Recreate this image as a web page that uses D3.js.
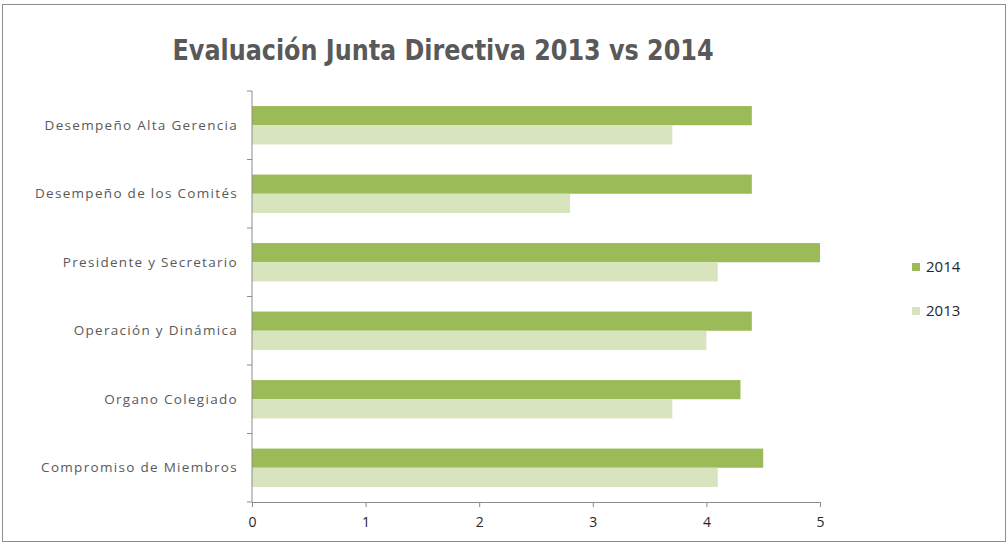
<!DOCTYPE html>
<html>
<head>
<meta charset="utf-8">
<script src="https://cdn.jsdelivr.net/npm/d3@7"></script>
<style>
  body { margin: 0; background: #fff; }
  svg { display: block; }
</style>
</head>
<body>
<div id="chart"></div>
<script>
// Data
const categories = [
  "Desempeño Alta Gerencia",
  "Desempeño de los Comités",
  "Presidente y Secretario",
  "Operación y Dinámica",
  "Organo Colegiado",
  "Compromiso de Miembros"
];
const seriesNames = ["2014", "2013"];
const values2014 = [4.4, 4.4, 5.0, 4.4, 4.3, 4.5];
const values2013 = [3.7, 2.8, 4.1, 4.0, 3.7, 4.1];
const xTicks = [0, 1, 2, 3, 4, 5];
const titleText = "Evaluación Junta Directiva 2013 vs 2014";

const width = 1008, height = 544;
const margins = { top: 91, right: 188, bottom: 42, left: 252 };

const svg = d3.select("#chart")
  .append("svg")
  .attr("width", width)
  .attr("height", height);

// outer border
svg.append("rect")
  .attr("x", 2.5).attr("y", 4.5)
  .attr("width", 1003).attr("height", 537)
  .attr("fill", "#fff")
  .attr("stroke", "#8c8c8c");

// build rows
const rows = categories.map((c, i) => ({
  cat: c,
  "2014": values2014[i],
  "2013": values2013[i]
}));

// scales
const x = d3.scaleLinear()
  .domain([0, 5])
  .range([margins.left, width - margins.right]);

const y0 = d3.scaleBand()
  .domain(categories)
  .range([margins.top, height - margins.bottom])
  .paddingInner(0.44)
  .paddingOuter(0.22);

const y1 = d3.scaleBand()
  .domain(seriesNames)
  .range([0, y0.bandwidth()]);

const color = d3.scaleOrdinal()
  .domain(seriesNames)
  .range(["#9bbb59", "#d7e4bd"]);

// bars
const groups = svg.append("g")
  .selectAll("g")
  .data(rows)
  .join("g")
    .attr("transform", d => `translate(0,${y0(d.cat)})`);

groups.selectAll("rect")
  .data(d => seriesNames.map(s => ({ s, v: d[s] })))
  .join("rect")
    .attr("x", x(0))
    .attr("y", d => y1(d.s))
    .attr("width", d => x(d.v) - x(0))
    .attr("height", y1.bandwidth())
    .attr("fill", d => color(d.s));

// x axis
const xAxis = svg.append("g")
  .attr("transform", `translate(0,${height - margins.bottom})`)
  .call(d3.axisBottom(x).tickValues(xTicks).tickSize(5).tickPadding(10).tickFormat(d3.format("d")));
xAxis.select(".domain").attr("stroke", "#8c8c8c");
xAxis.selectAll(".tick line").attr("stroke", "#8c8c8c");
xAxis.selectAll("text")
  .attr("fill", "#262626")
  .style("font-family", "'Open Sans', sans-serif")
  .style("font-size", "14px");

// y axis: ticks at category boundaries
const yEdge = d3.scaleBand().domain(categories).range([margins.top, height - margins.bottom]);
const yAxisG = svg.append("g");
yAxisG.append("line")
  .attr("x1", x(0)).attr("x2", x(0))
  .attr("y1", yEdge.range()[0]).attr("y2", yEdge.range()[1])
  .attr("stroke", "#8c8c8c");
const edges = categories.map(c => yEdge(c)).concat([yEdge.range()[1]]);
yAxisG.selectAll("line.tk")
  .data(edges)
  .join("line")
    .attr("class", "tk")
    .attr("x1", x(0) - 5).attr("x2", x(0))
    .attr("y1", d => d).attr("y2", d => d)
    .attr("stroke", "#8c8c8c");

yAxisG.selectAll("text")
  .data(categories)
  .join("text")
    .attr("x", 238)
    .attr("y", d => yEdge(d) + yEdge.bandwidth() / 2)
    .attr("dy", "0.35em")
    .attr("text-anchor", "end")
    .attr("fill", "#595959")
    .style("font-family", "'Open Sans', sans-serif")
    .style("font-size", "13.5px")
    .style("letter-spacing", "1.3px")
    .text(d => d);

// title
svg.append("text")
  .attr("x", 443)
  .attr("y", 60)
  .attr("text-anchor", "middle")
  .attr("fill", "#595959")
  .style("font-family", "'DejaVu Sans Condensed', 'DejaVu Sans', sans-serif")
  .style("font-size", "28px")
  .style("font-weight", "bold")
  .attr("textLength", 541)
  .attr("lengthAdjust", "spacingAndGlyphs")
  .text(titleText);

// legend
const legend = svg.append("g")
  .attr("transform", "translate(912,267)");
seriesNames.forEach((s, i) => {
  const g = legend.append("g").attr("transform", `translate(0,${i * 44})`);
  g.append("rect")
    .attr("x", 0).attr("y", -4)
    .attr("width", 8).attr("height", 8)
    .attr("fill", color(s));
  g.append("text")
    .attr("x", 14).attr("y", 0)
    .attr("dy", "0.35em")
    .attr("fill", "#262626")
    .style("font-family", "'Open Sans', sans-serif")
    .style("font-size", "15px")
    .text(s);
});
</script>
</body>
</html>
